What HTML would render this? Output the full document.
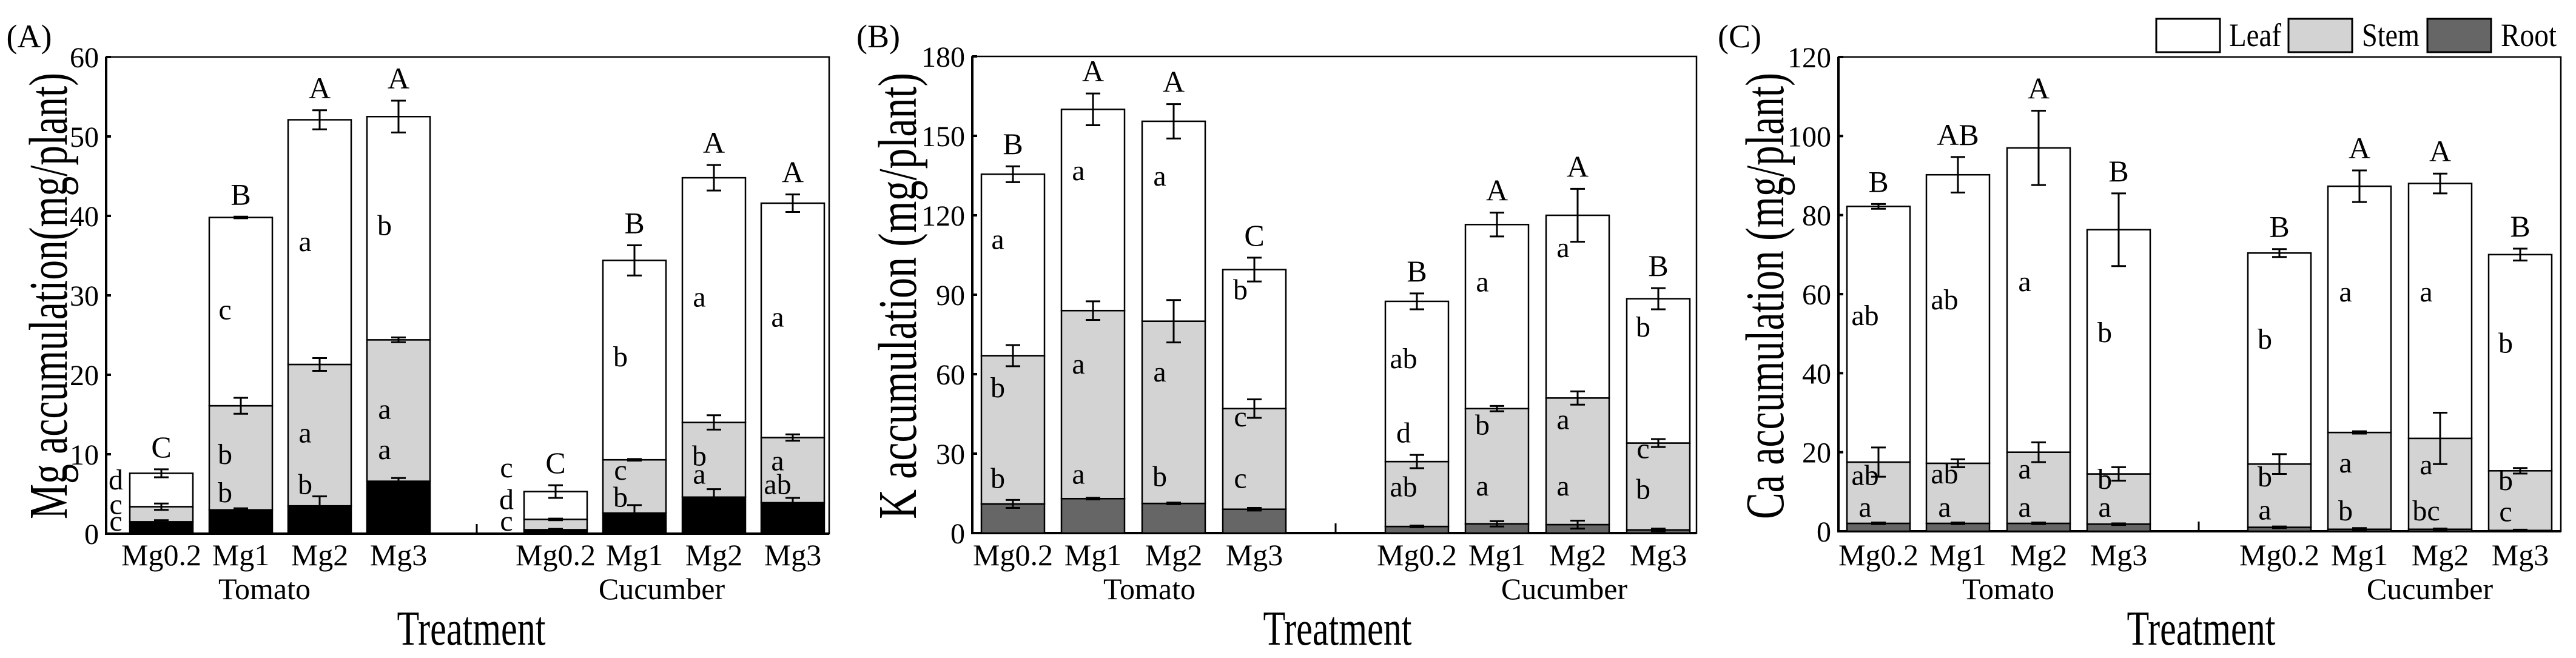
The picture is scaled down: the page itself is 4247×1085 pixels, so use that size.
<!DOCTYPE html>
<html><head><meta charset="utf-8"><style>
html,body{margin:0;padding:0;background:#fff;}
svg text{font-family:"Liberation Serif","Times New Roman",serif;fill:#000;}
</style></head><body>
<svg id="chart" width="4247" height="1080" viewBox="0 0 4247 1080" xmlns="http://www.w3.org/2000/svg" font-family="Liberation Serif, serif"></svg>
<script>
const treatments = ["Mg0.2","Mg1","Mg2","Mg3","Mg0.2","Mg1","Mg2","Mg3"];
const groupNames = ["Tomato","Cucumber"];
// Panel A (Mg)
const mgRoot = [1.5,3.0,3.5,6.6,0.5,2.6,4.6,3.9];
const mgStem = [1.9,13.1,17.8,17.8,1.3,6.7,9.4,8.2];
const mgLeaf = [4.2,23.7,30.8,28.1,3.5,25.1,30.8,29.5];
const mgErrTotal = [0.5,0.1,1.2,2.0,0.8,1.9,1.6,1.1];
const mgErrStem = [0.4,1.0,0.8,0.3,0.1,0.1,0.9,0.4];
const mgErrRoot = [0.2,0.2,1.2,0.4,0.1,1.0,1.0,0.6];
const mgTopLetters = ["C","B","A","A","C","B","A","A"];
const mgLetters = [["d","c","c"],["c","b","b"],["a","a","b"],["b","a","a"],["c","d","c"],["b","c","b"],["a","b","a"],["a","a","ab"]];
const mgLetterY = [[6.5,3.4,1.3],[27.9,9.7,4.9],[36.5,12.4,5.9],[38.5,15.4,10.3],[8,4,1.3],[22,7.7,4.3],[29.5,9.5,7.2],[27,8.9,5.9]];
const mgTicks = [0,10,20,30,40,50,60];
// Panel B (K)
const kRoot = [11,13,11.2,9,2.5,3.5,3.2,1.2];
const kStem = [56,71,68.8,38,24.5,43.5,47.8,32.8];
const kLeaf = [68.5,76,75.5,52.5,60.5,69.5,69,54.5];
const kErrTotal = [3,6,6.5,4.5,3,4.5,10,4];
const kErrStem = [4,3.5,8,3.5,2.5,1,2.5,1.5];
const kErrRoot = [1.5,0.3,0.3,0.5,0.3,1,1.5,0.5];
const kTopLetters = ["B","A","A","C","B","A","A","B"];
const kLetters = [["a","b","b"],["a","a","a"],["a","a","b"],["b","c","c"],["ab","d","ab"],["a","b","a"],["a","a","a"],["b","c","b"]];
const kLetterY = [[110,54,19.8],[136,63,21.4],[134,60,20.5],[91,43,19.8],[65,37,16.6],[94,40,17],[107,42,17],[77,31,15.7]];
const kTicks = [0,30,60,90,120,150,180];
// Panel C (Ca)
const caRoot = [2,2,2,1.8,1,0.5,0.5,0.2];
const caStem = [15.5,15.2,18,12.7,16,24.5,23,15.1];
const caLeaf = [64.7,73,77,61.8,53.4,62.3,64.5,54.7];
const caErrTotal = [0.6,4.5,9.4,9.2,1,4,2.5,1.5];
const caErrStem = [3.7,1,2.5,1.7,2.5,0.3,6.5,0.7];
const caErrRoot = [0.2,0.2,0.2,0.2,0.2,0.3,0.2,0.2];
const caTopLetters = ["B","AB","A","B","B","A","A","B"];
const caLetters = [["ab","ab","a"],["ab","ab","a"],["a","a","a"],["b","b","a"],["b","b","a"],["a","a","b"],["a","a","bc"],["b","b","c"]];
const caLetterY = [[54,13.6,5.5],[58,14,5.5],[62.6,15.2,5.5],[49.7,12.6,5.5],[48,13.2,4.8],[60,16.7,4.6],[60,16.3,4.6],[47,12.3,4.4]];
const caTicks = [0,20,40,60,80,100,120];

const NS="http://www.w3.org/2000/svg";
const svg=document.getElementById('chart');
function mk(tag,attrs,parent){const e=document.createElementNS(NS,tag);for(const k in attrs)e.setAttribute(k,attrs[k]);(parent||svg).appendChild(e);return e;}
function txt(s,x,y,size,anchor,parent){const t=mk('text',{x:x,y:y,'font-size':size,'text-anchor':anchor||'middle','font-family':'Liberation Serif, serif'},parent);t.textContent=s;return t;}

const panels=[
 {id:'a',label:'(A)',title:'Mg accumulation(mg/plant)',left:175,right:1367,top:94,bottom:880,max:60,ticks:mgTicks,root:mgRoot,stem:mgStem,leaf:mgLeaf,eT:mgErrTotal,eS:mgErrStem,eR:mgErrRoot,up:mgTopLetters,lt:mgLetters,ly:mgLetterY,
  centers:[266,397,527,657,916,1046,1177,1307],dx:[-75,-26,-24,-23,-81,-23,-24,-25],mid:786,grpX:[436,1091],trX:777,titleX:80,titleLen:736,labX:48,rootColor:'#000'},
 {id:'b',label:'(B)',title:'K accumulation (mg/plant)',left:1603,right:2797,top:93,bottom:879,max:180,ticks:kTicks,root:kRoot,stem:kStem,leaf:kLeaf,eT:kErrTotal,eS:kErrStem,eR:kErrRoot,up:kTopLetters,lt:kLetters,ly:kLetterY,
  centers:[1670,1802,1935,2068,2336,2468,2601,2734],dx:[-25,-24,-23,-23,-22,-24,-24,-25],mid:2202,grpX:[1895,2579],trX:2205,titleX:1480,titleLen:736,labX:1448,rootColor:'#666'},
 {id:'c',label:'(C)',title:'Ca accumulation (mg/plant)',left:3031,right:4222,top:94,bottom:876,max:120,ticks:caTicks,root:caRoot,stem:caStem,leaf:caLeaf,eT:caErrTotal,eS:caErrStem,eR:caErrRoot,up:caTopLetters,lt:caLetters,ly:caLetterY,
  centers:[3097,3228,3361,3493,3758,3890,4023,4155],dx:[-22,-22,-23,-23,-24,-23,-23,-24],mid:3625,grpX:[3311,4006],trX:3629,titleX:2910,titleLen:736,labX:2868,rootColor:'#666'}
];
const BW=104;

panels.forEach(p=>{
  const g=mk('g',{});
  
  
  const y=v=>p.bottom-(v/p.max)*(p.bottom-p.top);
  const fr=mk('rect',{x:p.left,y:p.top,width:p.right-p.left,height:p.bottom-p.top,fill:'none',stroke:'#000','stroke-width':2.5},g);
  
  
  const ya=mk('line',{x1:p.left,y1:p.top,x2:p.left,y2:p.bottom+2,stroke:'#000','stroke-width':4},g);
  
  
  const xa=mk('line',{x1:p.left,y1:p.bottom,x2:p.right,y2:p.bottom,stroke:'#000','stroke-width':4},g);
  
  
  p.ticks.forEach(t=>{
    const tk=mk('line',{x1:p.left,y1:y(t),x2:p.left+8,y2:y(t),stroke:'#000','stroke-width':4},g);
    
    
    const tl=txt(String(t),p.left-12,y(t)+17,48,'end',g);
    
    
  });
  const mt=mk('line',{x1:p.mid,y1:p.bottom,x2:p.mid,y2:p.bottom-16,stroke:'#000','stroke-width':3},g);
  
  
  p.centers.forEach((cx,i)=>{
    const r=p.root[i],s=r+p.stem[i],t=s+p.leaf[i];
    const x0=cx-BW/2;
    const segs=[[0,r,p.rootColor,'root'],[r,s,'#d3d3d3','stem'],[s,t,'#fff','leaf']];
    segs.forEach(sg=>{
      const b=mk('rect',{x:x0,y:y(sg[1]),width:BW,height:y(sg[0])-y(sg[1]),fill:sg[2],stroke:'#000','stroke-width':2.5},g);
      
      
    });
    [[t,p.eT[i]],[s,p.eS[i]],[r,p.eR[i]]].forEach(e=>{
      const eg=mk('g',{stroke:'#000','stroke-width':3},g);
      
      
      mk('line',{x1:cx,y1:y(e[0]+e[1]),x2:cx,y2:y(Math.max(0,e[0]-e[1]))},eg);
      mk('line',{x1:cx-12,y1:y(e[0]+e[1]),x2:cx+12,y2:y(e[0]+e[1])},eg);
      mk('line',{x1:cx-12,y1:y(Math.max(0,e[0]-e[1])),x2:cx+12,y2:y(Math.max(0,e[0]-e[1]))},eg);
    });
    const ul=txt(p.up[i],cx,y(t+p.eT[i])-20,50,'middle',g);
    
    
    p.lt[i].forEach((l,j)=>{
      const ll=txt(l,cx+p.dx[i],y(p.ly[i][j])+12,48,'middle',g);
      
      
    });
    const cl=txt(treatments[i],cx,932,50,'middle',g);
    
    
  });
  groupNames.forEach((gn,k)=>{
    const gl=txt(gn,p.grpX[k],988,50,'middle',g);
    
    
  });
  const xt=txt('Treatment',p.trX,1063,80,'middle',g);
  xt.setAttribute('textLength','245');
  xt.setAttribute('lengthAdjust','spacingAndGlyphs');
  
  
  const yt=txt(p.title,0,0,90,'middle',g);
  yt.setAttribute('textLength',String(p.titleLen));
  yt.setAttribute('lengthAdjust','spacingAndGlyphs');
  yt.setAttribute('transform','translate('+(p.titleX+30)+',488) rotate(-90)');
  
  
  const pl=txt(p.label,p.labX,78,54,'middle',g);
  
  
});

const leg=mk('g',{});


[['Leaf','#fff',3555,3675,86],['Stem','#d3d3d3',3773,3894,95],['Root','#666',4002,4123,92]].forEach(l=>{
  const sw=mk('rect',{x:l[2],y:31,width:105,height:55,fill:l[1],stroke:'#000','stroke-width':3},leg);
  
  
  const lt=txt(l[0],l[3],76,54,'start',leg);
  lt.setAttribute('textLength',String(l[4]));
  lt.setAttribute('lengthAdjust','spacingAndGlyphs');
  
  
});
</script>
</body></html>
